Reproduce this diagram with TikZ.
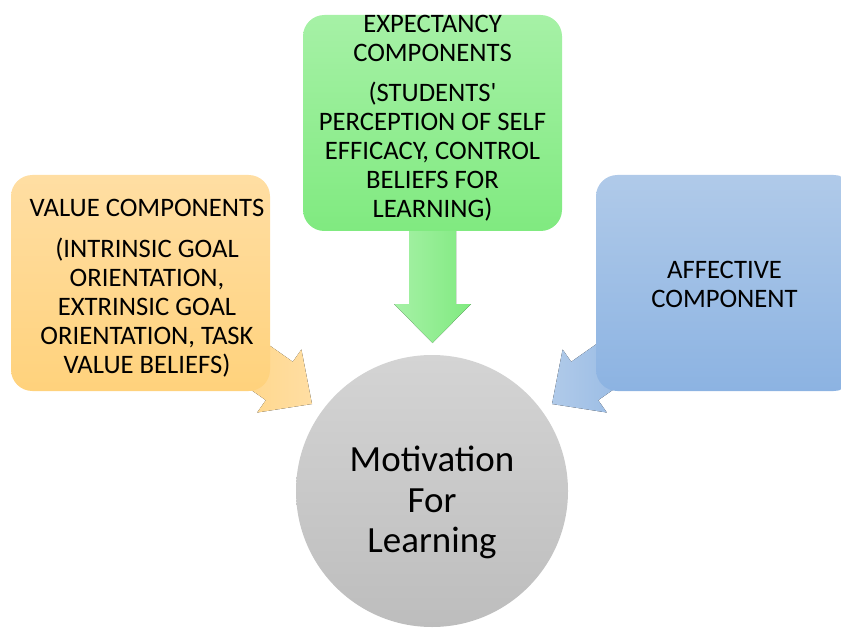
\documentclass[tikz,border=0pt]{standalone}
\usepackage{fontspec}
\setmainfont{Carlito}
\usetikzlibrary{calc}

\definecolor{valTop}{HTML}{FFDEA3}
\definecolor{valBot}{HTML}{FFD27C}
\definecolor{expTop}{HTML}{A6F1A6}
\definecolor{expBot}{HTML}{80EA80}
\definecolor{affTop}{HTML}{B0CAE9}
\definecolor{affBot}{HTML}{8CB3E2}
\definecolor{motTop}{HTML}{D4D4D4}
\definecolor{motBot}{HTML}{BDBDBD}

\tikzset{
  card/.style={rounded corners=16pt, minimum width=194.25pt, minimum height=162pt,
               inner sep=0pt, draw=none},
  cardtext/.style={font=\fontsize{20}{21.8}\selectfont, align=center, inner sep=0pt},
  hubtext/.style={font=\fontsize{27.7}{30.4}\selectfont, align=center, inner sep=0pt},
  blockarrow/.style={draw=none}
}

\begin{document}
\begin{tikzpicture}[x=0.75pt, y=-0.75pt]
\useasboundingbox (0,0) rectangle (841,634);

% ---- block arrows (drawn first, tucked under the cards) ----
% value -> hub
\coordinate (va1) at (227.4,315.8);
\coordinate (va2) at (292.8,361.8);
\coordinate (va3) at (301.4,349.5);
\coordinate (vtip) at (312,404);
\coordinate (va5) at (257.2,412.5);
\coordinate (va6) at (265.8,400.2);
\coordinate (va7) at (200.4,354.2);
\fill[blockarrow, left color=valBot, right color=valTop]
  (va1) -- (va2) -- (va3) -- (vtip) -- (va5) -- (va6) -- (va7) -- cycle;

% expectancy -> hub
\coordinate (ea1) at (409,200);
\coordinate (ea2) at (409,304);
\coordinate (ea3) at (394,304);
\coordinate (etip) at (432.5,343);
\coordinate (ea5) at (471,304);
\coordinate (ea6) at (456,304);
\coordinate (ea7) at (456,200);
\fill[blockarrow, left color=expTop, right color=expBot]
  (ea1) -- (ea2) -- (ea3) -- (etip) -- (ea5) -- (ea6) -- (ea7) -- cycle;

% affective -> hub
\coordinate (aa1) at (636.6,315.8);
\coordinate (aa2) at (571.2,361.8);
\coordinate (aa3) at (562.6,349.5);
\coordinate (atip) at (552,404);
\coordinate (aa5) at (606.8,412.5);
\coordinate (aa6) at (598.2,400.2);
\coordinate (aa7) at (663.6,354.2);
\fill[blockarrow, left color=affTop, right color=affBot]
  (aa1) -- (aa2) -- (aa3) -- (atip) -- (aa5) -- (aa6) -- (aa7) -- cycle;

% ---- cards ----
\node[card, top color=valTop, bottom color=valBot] (value) at (140.5,283) {};
\node[card, top color=expTop, bottom color=expBot] (expect) at (432.5,123) {};
\node[card, top color=affTop, bottom color=affBot] (affect) at (725.5,283) {};

\node[cardtext] (valuetext) at (147,288.5)
  {VALUE COMPONENTS\\[9pt]
   (INTRINSIC GOAL\\ORIENTATION,\\EXTRINSIC GOAL\\ORIENTATION, TASK\\VALUE BELIEFS)};
\node[cardtext] (expecttext) at (432.5,118.5)
  {EXPECTANCY\\COMPONENTS\\[8pt]
   (STUDENTS\textquotesingle\\PERCEPTION OF SELF\\EFFICACY, CONTROL\\BELIEFS FOR\\LEARNING)};
\node[cardtext] (affecttext) at (724.5,284)
  {AFFECTIVE\\COMPONENT};

% ---- hub ----
\node[circle, minimum size=204pt, inner sep=0pt, draw=none,
      top color=motTop, bottom color=motBot] (hub) at (432,491) {};
\node[hubtext] (hubtext) at (432,502.5) {Motivation\\For\\Learning};
\end{tikzpicture}
\end{document}
